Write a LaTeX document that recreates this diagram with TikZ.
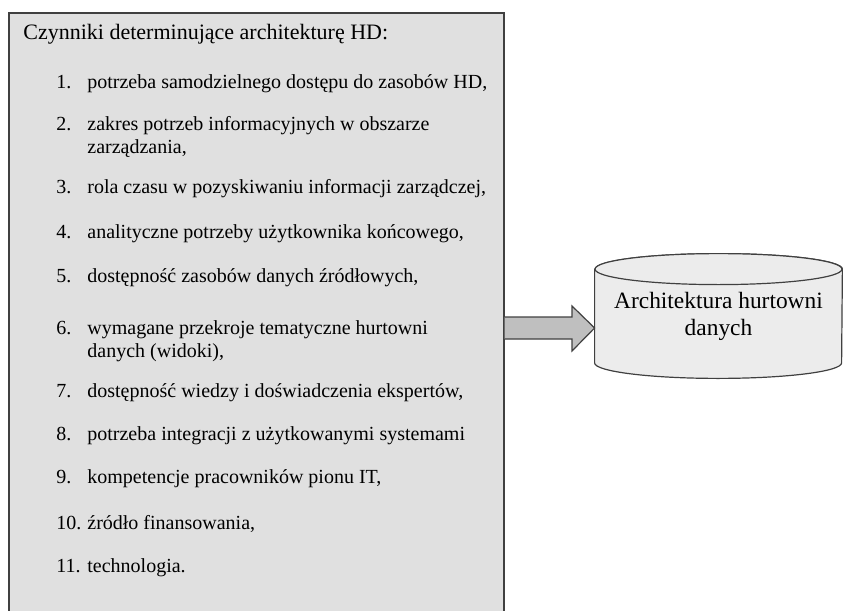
\documentclass[tikz,border=0pt]{standalone}
\usepackage{fontspec}
\setmainfont{Liberation Serif}
\usetikzlibrary{positioning, fit, backgrounds}

\definecolor{boxgray}{RGB}{224,224,224}
\definecolor{cylgray}{RGB}{236,236,236}
\definecolor{arrgray}{RGB}{191,191,191}
\definecolor{edgegray}{RGB}{64,64,64}

% number column of the list
\newcommand{\fnum}[1]{\makebox[15.5pt][l]{#1}}
\newcommand{\fgap}{\hspace*{15.5pt}}
% two-line entry, anchored on its first line
\newcommand{\ftwo}[3]{\vtop{\hbox{\fnum{#1}#2}\hbox{\fgap #3}}}

\begin{document}
\begin{tikzpicture}[
  x=0.5pt, y=-0.5pt,
  factorbox/.style={draw=edgegray, fill=boxgray, line width=0.6pt, inner sep=0pt},
  heading/.style={anchor=base west, inner sep=0pt, font=\fontsize{11}{12}\selectfont},
  factor/.style={anchor=base west, inner sep=0pt, font=\fontsize{10}{11.5}\selectfont},
  store/.style={minimum width=123.5pt, minimum height=46.5pt, inner sep=0pt,
                align=center, font=\fontsize{11.7}{13.5}\selectfont},
  cyl/.style={draw=edgegray, fill=cylgray, line width=0.6pt},
  cylend/.style={x radius=61.75pt, y radius=7.75pt},
  bigarrow/.style={draw=edgegray, fill=arrgray, line width=0.6pt, line join=miter},
]
\useasboundingbox (0,0) rectangle (843,611);

% Factors box (runs past the lower edge)
\node[factorbox, fit={(9,13) (504,640)}] (factors) {};

% List of factors
\node[heading] (title) at (23,39) {Czynniki determinujące architekturę HD:};
\node[factor] (f1) at (56,88) {\fnum{1.}potrzeba samodzielnego dostępu do zasobów HD,};
\node[factor] (f2) at (56,130)
  {\ftwo{2.}{zakres potrzeb informacyjnych w obszarze}{zarządzania,}};
\node[factor] (f3) at (56,193) {\fnum{3.}rola czasu w pozyskiwaniu informacji zarządczej,};
\node[factor] (f4) at (56,238) {\fnum{4.}analityczne potrzeby użytkownika końcowego,};
\node[factor] (f5) at (56,282) {\fnum{5.}dostępność zasobów danych źródłowych,};
\node[factor] (f6) at (56,334)
  {\ftwo{6.}{wymagane przekroje tematyczne hurtowni}{danych (widoki),}};
\node[factor] (f7) at (56,397) {\fnum{7.}dostępność wiedzy i doświadczenia ekspertów,};
\node[factor] (f8) at (56,440) {\fnum{8.}potrzeba integracji z użytkowanymi systemami};
\node[factor] (f9) at (56,483) {\fnum{9.}kompetencje pracowników pionu IT,};
\node[factor] (f10) at (56,529) {\fnum{10.}źródło finansowania,};
\node[factor] (f11) at (56,572) {\fnum{11.}technologia.};

% Data warehouse
\node[store] (store) at (718.5,316) {Architektura hurtowni\\danych};

% Cylinder outline
\begin{scope}[on background layer]
  \draw[cyl] (store.north west) -- (store.south west)
    arc[start angle=180, end angle=360, cylend] -- (store.north east)
    arc[start angle=0, end angle=180, cylend] -- cycle;
  \draw[cyl] (store.north) ellipse[cylend];
\end{scope}

% Block arrow
\coordinate (tip) at (store.west |- 0,328);
\draw[bigarrow] (factors.east |- 0,317) -- (572,317) -- (572,306) -- (tip)
  -- (572,351) -- (572,339) -- (factors.east |- 0,339);

\end{tikzpicture}
\end{document}
